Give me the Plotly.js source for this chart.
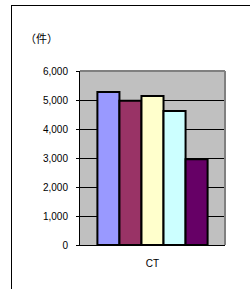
<!DOCTYPE html>
<html><head><meta charset="utf-8">
<script src="https://cdn.plot.ly/plotly-3.0.1.min.js"></script>
<style>html,body{margin:0;padding:0;background:#fff;overflow:hidden;}
#wrap{position:relative;width:250px;height:289px;overflow:hidden;}
#frame{position:absolute;left:11px;top:5px;width:300px;height:320px;border:1px solid #000;box-sizing:border-box;}
#chart{position:absolute;left:0;top:0;width:250px;height:289px;}</style>
</head><body><div id="wrap"><div id="frame"></div><div id="chart"></div></div>
<script>
const categories = ["CT"];
const seriesNames = ["系列1", "系列2", "系列3", "系列4", "系列5"];
const seriesValues = [[5280], [4970], [5140], [4620], [2960]];
const seriesColors = ["#9999FF", "#993366", "#FFFFCC", "#CCFFFF", "#660066"];
const yTickVals = [0, 1000, 2000, 3000, 4000, 5000, 6000];

const traces = seriesNames.map((n, i) => ({
  type: "bar", name: n, x: categories, y: seriesValues[i],
  marker: {color: seriesColors[i], line: {color: "#000", width: 2}},
  hoverinfo: "none"
}));

const W = 250, H = 289, ml = 80, mr = 25, mt = 71, mb = 44;
const pw = W - ml - mr, ph = H - mt - mb;
const px = v => (v - ml) / pw, py = v => (H - mb - v) / ph;

const layout = {
  width: W, height: H,
  margin: {l: ml, r: mr, t: mt, b: mb, pad: 0},
  paper_bgcolor: "rgba(0,0,0,0)", plot_bgcolor: "#C0C0C0",
  showlegend: false, barmode: "group", bargap: 0.24, bargroupgap: 0,
  font: {family: "Liberation Sans, Arial, sans-serif", size: 10, color: "#000"},
  xaxis: {showline: true, linecolor: "#000", linewidth: 1, ticks: "", showgrid: false,
          tickfont: {size: 10}, ticklabelstandoff: 9, fixedrange: true},
  yaxis: {range: [0, 6000], tickvals: yTickVals, tickformat: ",", ticks: "outside", ticklen: 3,
          tickcolor: "#000", showline: true, linecolor: "#000", linewidth: 1,
          gridcolor: "#000", gridwidth: 1, zeroline: false, tickfont: {size: 10},
          ticklabelstandoff: 6, fixedrange: true},
  shapes: [
    {type: "line", xref: "paper", yref: "paper", x0: 0, x1: 1, y0: 1, y1: 1, line: {color: "#808080", width: 2}},
    {type: "line", xref: "paper", yref: "paper", x0: 1, x1: 1, y0: 0, y1: 1, line: {color: "#808080", width: 2}}
  ],
  annotations: [
    {text: "（件）", xref: "paper", yref: "paper", x: px(23), y: py(38), xanchor: "left", yanchor: "middle",
     showarrow: false, font: {size: 11, family: "Noto Sans CJK JP, sans-serif"}}
  ]
};
Plotly.newPlot("chart", traces, layout, {staticPlot: true});
</script></body></html>
